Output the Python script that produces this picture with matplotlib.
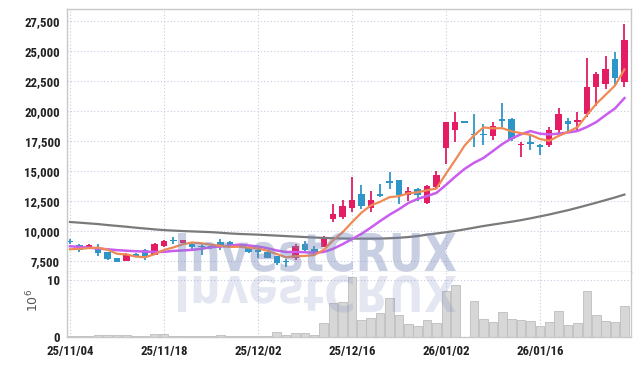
import matplotlib
matplotlib.use('Agg')
import matplotlib.pyplot as plt
from matplotlib import font_manager as fm
from matplotlib.patches import PathPatch
from matplotlib.textpath import TextPath
from matplotlib.font_manager import FontProperties
from matplotlib.transforms import Affine2D, IdentityTransform
import numpy as np

# --- data (one candle per trading day) ---
tick_idx = [0, 10, 20, 30, 40, 50]
tick_labels = ['25/11/04', '25/11/18', '25/12/02', '25/12/16', '26/01/02', '26/01/16']

opens = [9170, 8830, 8610, 8610, 8275, 7775, 7560, 8140, 8475, 8060,
         8775, 9250, 9060, 8975, 8700, 8720, 9100, 9100, 8800, 8700,
         8350, 8275, 7900, 7450, 7800, 8975, 8500, 8700, 11000, 11200,
         11950, 13140, 11940, 13140, 14170, 14250, 13060, 13560, 12390, 13690,
         16940, 18420, 19100, 18050, 18050, 17940, 19390, 19330, 17200, 17350,
         17225, 17170, 18475, 19170, 19110, 19750, 22025, 22310, 24330, 22475]
highs = [9350, 8900, 8940, 8975, 8300, 7800, 8200, 8200, 8500, 9050,
         9300, 9525, 9300, 9000, 8900, 8850, 9390, 9150, 8900, 8800,
         8550, 8300, 7950, 7650, 8975, 9200, 8800, 9600, 12300, 12640,
         14525, 13890, 13330, 13975, 14940, 14300, 13690, 13600, 13850, 15000,
         19110, 19940, 19150, 19800, 18975, 19110, 20690, 19400, 17440, 18140,
         17300, 18690, 20275, 19440, 19940, 24475, 23275, 24590, 24940, 27240]
lows = [8950, 8280, 8560, 7950, 7640, 7400, 7500, 7900, 7640, 8000,
        8700, 8975, 9000, 8500, 8050, 8550, 8420, 8700, 8700, 8200,
        7750, 7750, 7150, 7050, 7580, 8300, 8100, 8650, 10780, 11060,
        11600, 11890, 11610, 12860, 13560, 12300, 12500, 12500, 12300, 13560,
        15640, 17440, 19000, 17025, 17170, 17580, 18690, 17500, 16190, 16750,
        16330, 17000, 18140, 18225, 18420, 19525, 20440, 21875, 22110, 22025]
closes = [9120, 8420, 8830, 8225, 7725, 7440, 8140, 7940, 7940, 8975,
          9225, 9200, 9250, 8690, 8650, 8690, 8700, 8750, 8780, 8280,
          8300, 7800, 7360, 7420, 8750, 8420, 8150, 9525, 11400, 12080,
          12580, 12110, 12580, 12940, 14000, 13000, 13330, 13000, 13775, 14725,
          19110, 19110, 19050, 18000, 18000, 18750, 19170, 17725, 17250, 17300,
          17025, 18420, 19750, 18940, 19250, 22060, 23080, 23560, 22810, 25920]

# volume in millions of shares
volume = [0.12, 0.12, 0.12, 0.3, 0.3, 0.3, 0.3, 0.1, 0.1, 0.45,
          0.45, 0.1, 0.1, 0.08, 0.2, 0.1, 0.3, 0.12, 0.05, 0.12,
          0.17, 0.12, 0.8, 0.3, 0.6, 0.6, 0.3, 2.36, 5.9, 6.2,
          10.5, 2.95, 3.24, 4.1, 6.9, 3.75, 2.2, 1.85, 3.0, 2.36,
          8.06, 9.1, 0, 6.3, 3.06, 2.65, 4.3, 3.06, 2.95, 2.77,
          1.9, 2.53, 4.5, 2.06, 2.36, 8.0, 3.8, 2.77, 2.6, 5.4]

# moving average lines
ma5 = [8500, 8540, 8600, 8640, 8464, 8128, 8072, 7894, 7837, 8087,
       8444, 8656, 8918, 9068, 9003, 8896, 8796, 8696, 8714, 8640,
       8562, 8382, 8104, 7832, 7926, 7950, 8020, 8453, 9249, 9915,
       10747, 11539, 12150, 12458, 12842, 12926, 13170, 13254, 13421, 13566,
       14788, 15944, 17154, 17999, 18654, 18582, 18594, 18329, 18179, 18039,
       17694, 17544, 17949, 18287, 18677, 19684, 20616, 21378, 22152, 23486]
ma10 = [8750, 8700, 8640, 8560, 8500, 8430, 8380, 8340, 8310, 8276,
        8286, 8364, 8406, 8453, 8545, 8670, 8726, 8807, 8891, 8822,
        8729, 8589, 8400, 8273, 8283, 8256, 8201, 8279, 8541, 8921,
        9349, 9780, 10302, 10854, 11379, 11837, 12355, 12702, 12940, 13204,
        13857, 14557, 15204, 15710, 16110, 16685, 17269, 17742, 18089, 18347,
        18138, 18069, 18139, 18233, 18358, 18689, 19099, 19683, 20237, 21099]
ma_long = [10775, 10720, 10660, 10600, 10520, 10450, 10380, 10300, 10230, 10160,
           10100, 10060, 10020, 9990, 9960, 9930, 9880, 9820, 9780, 9750,
           9720, 9680, 9640, 9600, 9560, 9520, 9480, 9450, 9420, 9400,
           9390, 9390, 9390, 9395, 9420, 9460, 9520, 9600, 9720, 9820,
           9920, 10030, 10160, 10300, 10440, 10560, 10680, 10800, 10930, 11080,
           11240, 11400, 11580, 11760, 11960, 12170, 12380, 12600, 12820, 13060]

price_ticks = [7500, 10000, 12500, 15000, 17500, 20000, 22500, 25000, 27500]

RED = '#e31c64'
BLUE = '#2e95c9'
GRID = '#c5cbe0'
FRAME = '#c8c8c8'


def pick_font(cands):
    for f in cands:
        try:
            fm.findfont(FontProperties(family=f, weight='bold'), fallback_to_default=False)
            return f
        except ValueError:
            continue
    return 'DejaVu Sans'


narrow = pick_font(['Liberation Sans Narrow', 'DejaVu Sans Condensed',
                    'Roboto Condensed', 'Open Sans Condensed', 'Roboto'])
fam = [narrow, 'DejaVu Sans']
lab_size = 10.8 if narrow in ('Liberation Sans Narrow', 'DejaVu Sans Condensed') else 9.3

W, H = 639, 366
fig = plt.figure(figsize=(W / 100, H / 100), dpi=100)
fig.patch.set_facecolor('white')

x0, x1 = 67, 631
ax1 = fig.add_axes([x0 / W, (H - 272.3) / H, (x1 - x0) / W, (272.3 - 9.3) / H])
ax2 = fig.add_axes([x0 / W, (H - 336.7) / H, (x1 - x0) / W, (336.7 - 272.3) / H])

x = np.arange(len(closes))
o = np.array(opens)
c = np.array(closes)
up = c >= o
cols = [RED if u else BLUE for u in up]

# candles
ax1.vlines(x, lows, highs, colors=cols, linewidth=1.3, zorder=2)
body_lo = np.minimum(o, c)
body_h = np.maximum(np.abs(c - o), 110)
ax1.bar(x, body_h, bottom=body_lo, width=0.68, color=cols, linewidth=0, zorder=2)

# moving averages
ax1.plot(x, ma_long, color='#7a7a7a', lw=1.6, zorder=3)
ax1.plot(x, ma10, color='#c95df0', lw=1.8, zorder=3)
ax1.plot(x, ma5, color='#ef8a55', lw=1.6, zorder=3)

ax1.set_xlim(-0.32, 59.7)
ax1.set_ylim(6583, 28500)
ax1.set_yticks(price_ticks)
ax1.set_yticklabels([f'{v:,}' for v in price_ticks])
ax1.set_xticks(tick_idx)
ax1.set_xticklabels([])

# volume
ax2.bar(x, volume, width=0.92, color='#d7d7d7', edgecolor='#bdbdbd', linewidth=0.6, zorder=2)
ax2.set_xlim(-0.32, 59.7)
ax2.set_ylim(0, 11.36)
ax2.set_yticks([0, 10])
ax2.set_yticklabels(['0', '10'])
ax2.set_xticks(tick_idx)
ax2.set_xticklabels(tick_labels)

for ax in (ax1, ax2):
    ax.grid(True, linestyle=(0, (1, 2)), color=GRID, linewidth=0.8, zorder=0)
    ax.set_axisbelow(True)
    ax.tick_params(length=0, labelsize=lab_size, colors='#222222')
    ax.tick_params(axis='y', pad=5)
    ax.tick_params(axis='x', pad=6)
    for lab in ax.get_xticklabels() + ax.get_yticklabels():
        lab.set_family(fam)
        lab.set_fontweight('bold')
    for s in ax.spines.values():
        s.set_color(FRAME)
        s.set_linewidth(1.0)
ax2.spines['top'].set_visible(False)
ax2.get_yticklabels()[0].set_verticalalignment('center_baseline')

fig.text(33 / W, 1 - 300 / H, r'$10^{6}$', rotation=90, ha='center', va='center',
         fontsize=9, color='#555555')

# watermark with reflection
fp = FontProperties(family='DejaVu Sans', weight='bold')
tp = TextPath((0, 0), 'InvestCRUX', size=1, prop=fp)
ext = tp.get_extents()
sx = 278 / ext.width
sy = 38 / 0.73
main_tr = Affine2D().translate(-ext.x0, 0).scale(sx, sy).translate(178, H - 271)
refl_tr = Affine2D().translate(-ext.x0, 0).scale(sx, -sy * 0.95).translate(178, H - 276)
fig.add_artist(PathPatch(tp, transform=main_tr + IdentityTransform(),
                         facecolor='#7887b9', edgecolor='none', alpha=0.4, zorder=5))
fig.add_artist(PathPatch(tp, transform=refl_tr + IdentityTransform(),
                         facecolor='#7887b9', edgecolor='none', alpha=0.2, zorder=5))

fig.savefig('out.png', dpi=100)
